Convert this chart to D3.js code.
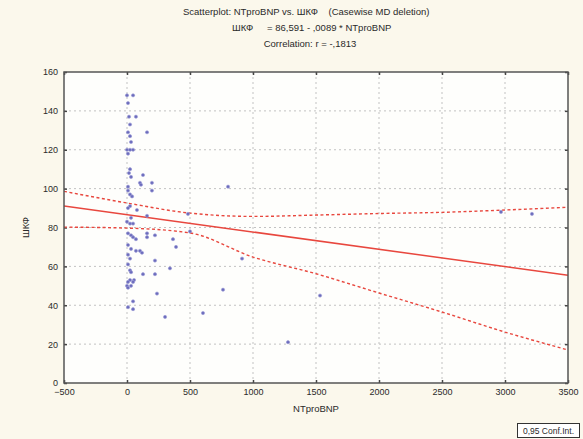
<!DOCTYPE html>
<html>
<head>
<meta charset="utf-8">
<script src="https://cdn.jsdelivr.net/npm/d3@7/dist/d3.min.js"></script>
<style>
  body { margin: 0; background: #fbf8ec; }
  svg { display: block; font-family: "Liberation Sans", Arial, sans-serif; }
</style>
</head>
<body>
<div id="chart"></div>
<script>
// NTproBNP values (x) and ШКФ values (y)
var ntprobnp = [0, 48, 8, 16, 71, 24, 159, 8, 24, 32, 0, 24, 48, 8, 24, 16, 32, 127, 103, 111,
    198, 198, 8, 8, 24, 40, 802, 24, 8, 79, 159, 32, 484, 0, 24, 48, 8, 32, 48, 71,
    159, 159, 222, 365, 500, 389, 8, 32, 71, 103, 119, 8, 24, 222, 8, 341, 24, 32, 127, 222,
    56, 24, 8, 48, 0, 32, 8, 238, 762, 48, 8, 48, 603, 302, 913, 1532, 1278, 2968, 3214];
var shkf = [148, 148, 144, 137, 137, 133, 129, 129, 127, 124, 120, 120, 120, 118, 110, 108, 106, 107, 103, 102,
    103, 99, 101, 99, 97, 96, 101, 91, 90, 89, 86, 85, 87, 83, 82, 82, 77, 76, 75, 74,
    77, 75, 76, 74, 78, 70, 71, 69, 68, 68, 67, 66, 64, 63, 61, 59, 58, 57, 56, 56,
    53, 53, 52, 52, 50, 50, 49, 46, 48, 42, 39, 38, 36, 34, 64, 45, 21, 88, 87];

// 0,95 confidence band, read at the x ticks
var bandX = [-500, 0, 500, 1000, 1500, 2000, 2500, 3000, 3500];
var bandUpper = [98.6, 92.6, 87.4, 85.7, 86.4, 87.2, 87.8, 89, 90.4];
var bandLower = [80.2, 79.7, 77.2, 64.8, 56.2, 46.3, 36.5, 26.2, 17];

// regression from the title: ШКФ = 86,591 - ,0089 * NTproBNP
var intercept = 86.591, slope = -0.0089;

var xTicks = [-500, 0, 500, 1000, 1500, 2000, 2500, 3000, 3500];
var yTicks = [0, 20, 40, 60, 80, 100, 120, 140, 160];

var width = 583, height = 439;
var margin = { top: 72, right: 15, bottom: 56, left: 64 };
var w = width - margin.left - margin.right,
    h = height - margin.top - margin.bottom;

var svg = d3.select("#chart").append("svg")
    .attr("width", width)
    .attr("height", height);

var x = d3.scaleLinear().domain([-500, 3500]).range([margin.left, margin.left + w]);
var y = d3.scaleLinear().domain([0, 160]).range([margin.top + h, margin.top]);

// title block
var title = svg.append("g").attr("font-size", 9.5).attr("fill", "#2a2a2a");
title.append("text").attr("x", 183).attr("y", 15)
    .text("Scatterplot: NTproBNP vs. ШКФ    (Casewise MD deletion)")
    .attr("xml:space", "preserve");
title.append("text").attr("x", 232).attr("y", 31).text("ШКФ");
title.append("text").attr("x", 267).attr("y", 31).text("= 86,591 - ,0089 * NTproBNP");
title.append("text").attr("x", 310).attr("y", 47).attr("text-anchor", "middle")
    .text("Correlation: r = -,1813");

// plot area
svg.append("rect")
    .attr("x", margin.left).attr("y", margin.top)
    .attr("width", w).attr("height", h)
    .attr("fill", "#fefefc");

// dotted grid
var grid = svg.append("g").attr("stroke", "#c2c2c2").attr("stroke-dasharray", "2,3").attr("stroke-width", 1);
grid.selectAll(".gx").data(xTicks.slice(1, -1)).enter().append("line")
    .attr("x1", d => x(d)).attr("x2", d => x(d))
    .attr("y1", margin.top).attr("y2", margin.top + h);
grid.selectAll(".gy").data(yTicks.slice(1, -1)).enter().append("line")
    .attr("x1", margin.left).attr("x2", margin.left + w)
    .attr("y1", d => y(d)).attr("y2", d => y(d));

// axes with inner ticks on all four sides
var axisStyle = function (g) {
    g.select(".domain").remove();
    g.selectAll(".tick line").attr("stroke", "#444").attr("stroke-width", 1.5);
    g.selectAll("text").attr("font-size", 9).attr("fill", "#2a2a2a")
        .attr("font-family", "Liberation Sans, Arial, sans-serif");
};
svg.append("g").attr("transform", "translate(0," + (margin.top + h) + ")")
    .call(d3.axisBottom(x).tickValues(xTicks).tickSize(-3).tickPadding(6).tickFormat(d3.format("d")))
    .call(axisStyle);
svg.append("g").attr("transform", "translate(" + margin.left + ",0)")
    .call(d3.axisLeft(y).tickValues(yTicks).tickSize(-3).tickPadding(6))
    .call(axisStyle);
svg.append("g").attr("transform", "translate(0," + margin.top + ")")
    .call(d3.axisTop(x).tickValues(xTicks).tickSize(-3).tickFormat(""))
    .call(axisStyle);
svg.append("g").attr("transform", "translate(" + (margin.left + w) + ",0)")
    .call(d3.axisRight(y).tickValues(yTicks).tickSize(-3).tickFormat(""))
    .call(axisStyle);

// clip lines to plot area
svg.append("clipPath").attr("id", "clip").append("rect")
    .attr("x", margin.left).attr("y", margin.top).attr("width", w).attr("height", h);

var band = d3.line().x(d => x(d[0])).y(d => y(d[1])).curve(d3.curveMonotoneX);
svg.append("path")
    .datum(bandX.map((v, i) => [v, bandUpper[i]]))
    .attr("d", band).attr("fill", "none")
    .attr("stroke", "#e8473e").attr("stroke-width", 1.4).attr("stroke-dasharray", "3,2.5")
    .attr("clip-path", "url(#clip)");
svg.append("path")
    .datum(bandX.map((v, i) => [v, bandLower[i]]))
    .attr("d", band).attr("fill", "none")
    .attr("stroke", "#e8473e").attr("stroke-width", 1.4).attr("stroke-dasharray", "3,2.5")
    .attr("clip-path", "url(#clip)");

// regression line
svg.append("line")
    .attr("x1", x(-500)).attr("y1", y(intercept + slope * -500))
    .attr("x2", x(3500)).attr("y2", y(intercept + slope * 3500))
    .attr("stroke", "#e8473e").attr("stroke-width", 1.5)
    .attr("clip-path", "url(#clip)");

// points
svg.append("g").selectAll("circle")
    .data(ntprobnp.map((v, i) => [v, shkf[i]]))
    .enter().append("circle")
    .attr("cx", d => x(d[0])).attr("cy", d => y(d[1]))
    .attr("r", 1.6)
    .attr("fill", "#6c6cbc").attr("stroke", "#9a9ad6").attr("stroke-width", 0.6);

// frame
svg.append("rect")
    .attr("x", margin.left).attr("y", margin.top)
    .attr("width", w).attr("height", h)
    .attr("fill", "none").attr("stroke", "#555").attr("stroke-width", 1.5);

// axis titles
svg.append("text")
    .attr("x", x(1500)).attr("y", 412).attr("text-anchor", "middle")
    .attr("font-size", 9.5).attr("fill", "#2a2a2a").text("NTproBNP");
svg.append("text")
    .attr("transform", "translate(29," + y(80) + ") rotate(-90)")
    .attr("text-anchor", "middle")
    .attr("font-size", 9.5).attr("fill", "#2a2a2a").text("ШКФ");

// legend box
svg.append("rect")
    .attr("x", 517.5).attr("y", 423.5).attr("width", 62).attr("height", 14)
    .attr("fill", "#fff").attr("stroke", "#333").attr("stroke-width", 1);
svg.append("text")
    .attr("x", 548.5).attr("y", 434).attr("text-anchor", "middle")
    .attr("font-size", 8.5).attr("fill", "#2a2a2a").text("0,95 Conf.Int.");
</script>
</body>
</html>
